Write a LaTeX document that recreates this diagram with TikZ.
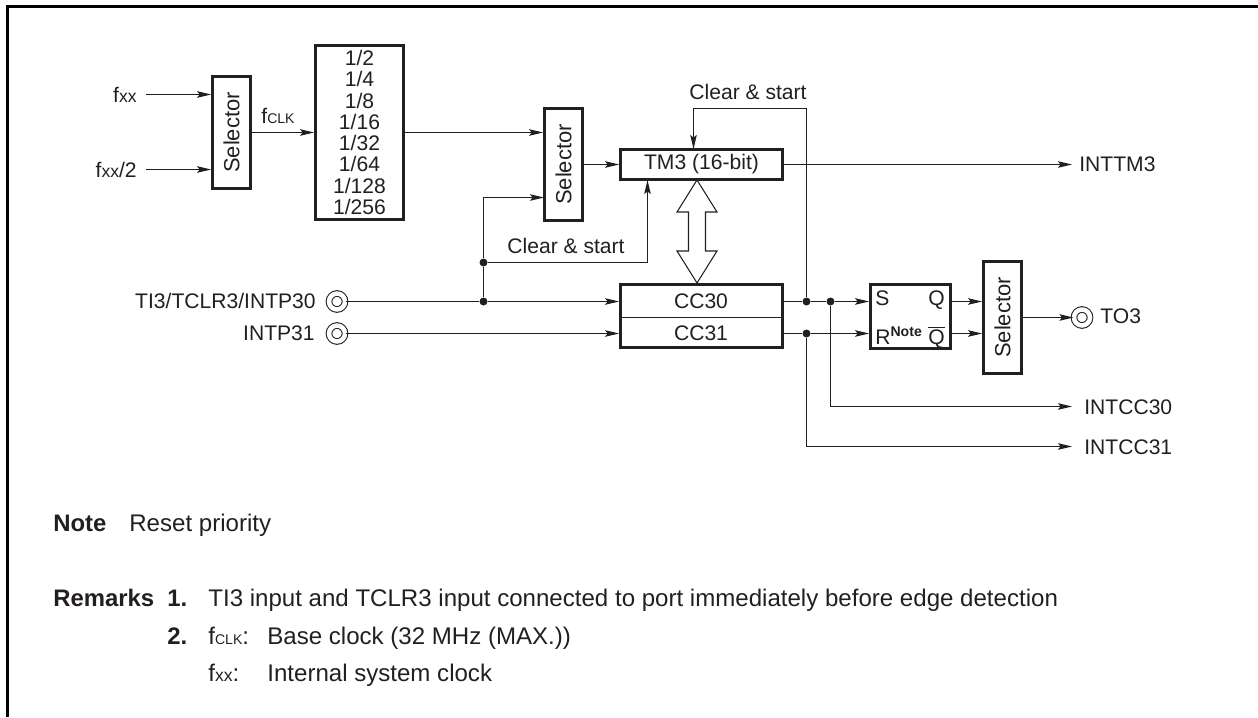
\documentclass[tikz,border=0pt]{standalone}
\usepackage{fontspec}
\setmainfont{Liberation Sans}
\usepackage{graphicx}
\usetikzlibrary{arrows.meta,positioning,calc,shapes.arrows}
\definecolor{TimInk}{RGB}{35,31,32}
\newcommand{\smallcap}[1]{{\fontsize{8}{10}\selectfont #1}}
\newcommand{\smallx}[1]{{\fontsize{10}{12}\selectfont #1}}
\tikzset{
  tim/box/.style={
    draw=TimInk,
    line width=1.6pt,
    fill=white,
    align=center,
    text=TimInk,
    inner sep=0pt,
    font=\fontsize{12}{12.08}\selectfont
  },
  tim/selector/.style={
    tim/box,
    minimum width=0.76cm,
    minimum height=2.24cm,
    font=\fontsize{12.5}{14}\selectfont
  },
  tim/label/.style={
    text=TimInk,
    inner ysep=0pt,
    inner xsep=0pt,
    text height=10.8pt,
    text depth=2.2pt,
    font=\fontsize{12}{14}\selectfont
  },
  tim/side/.style={tim/label,anchor=west},
  tim/remark/.style={tim/label,anchor=west,text height=11.9pt,font=\fontsize{13.7}{15}\selectfont},
  tim/head/.style={tim/remark,font=\fontsize{13.6}{15}\selectfont\bfseries},
  tim/line/.style={draw=TimInk, line width=0.7pt},
  tim/arrow/.style={-{Stealth[length=2.8mm,width=1.3mm,inset=0.5mm]}, tim/line},
  tim/dot/.style={circle, fill=TimInk, inner sep=0pt, minimum size=0.16cm},
  tim/pin/.style={circle, draw=TimInk, line width=0.6pt, double, double distance=0.09cm, inner sep=0pt, minimum size=0.32cm},
  tim/bus/.style={
    double arrow,
    draw=TimInk,
    line width=0.6pt,
    rotate=90,
    fill=white,
    inner sep=0pt,
    minimum width=0.8cm,
    minimum height=2.06cm,
    double arrow head extend=0.17cm,
    double arrow tip angle=64,
    text height=0.23cm
  },
  tim/frame/.style={draw=black, line width=1.7pt}
}
\begin{document}
\begin{tikzpicture}[x=0.02cm,y=-0.02cm]
  \useasboundingbox (0,0) rectangle (1258,717);
  \draw[tim/frame] (7.5,717) -- (7.5,6.5) -- (1258,6.5);
  % boxes
  \node[tim/selector] (sela) at (231.5,132.5) {\rotatebox{90}{Selector}};
  \node[tim/box,minimum width=1.76cm,minimum height=3.48cm] (div) at (359.5,132.5) {1/2\\1/4\\1/8\\1/16\\1/32\\1/64\\1/128\\1/256};
  \node[tim/selector] (selb) at (563.5,164.5) {\rotatebox{90}{Selector}};
  \node[tim/box,minimum width=3.24cm,minimum height=0.6cm] (tm) at (701.5,164.5) {TM3 (16-bit)};
  \node[tim/box,minimum width=3.24cm,minimum height=1.26cm] (cc) at (701.5,316) {};
  \node[tim/label] (cca) at (701,301) {CC30};
  \node[tim/label] (ccb) at (701,333) {CC31};
  \node[tim/box,minimum width=1.6cm,minimum height=1.28cm] (sr) at (910.5,316.5) {};
  \node[tim/side] (srs) at (875,298) {S};
  \node[tim/label,anchor=east] (srq) at (945,298) {Q};
  \node[tim/side] (srr) at (875,337) {R\textsuperscript{\bfseries Note}};
  \node[tim/label,anchor=east] (srn) at (945,337) {$\overline{\mbox{Q}}$};
  \node[tim/selector] (selc) at (1002.5,317.5) {\rotatebox{90}{Selector}};
  \node[tim/bus] (bus) at (697,231.5) {};
  % inputs
  \node[tim/label,anchor=east,inner xsep=0.18cm] (fxa) at (146,94.5) {f\smallx{xx}};
  \node[tim/label,anchor=east,inner xsep=0.18cm] (fxb) at (146,169.5) {f\smallx{xx}/2};
  \node[tim/label] (fclk) at (278,116) {f\smallcap{CLK}};
  \node[tim/pin] (pina) at (337,301.5) {};
  \node[tim/pin] (pinb) at (337,333.5) {};
  \node[tim/label,anchor=east] (tia) at (316,301) {TI3/TCLR3/INTP30};
  \node[tim/label,anchor=east] (tib) at (315,333) {INTP31};
  % outputs
  \node[tim/pin] (pinc) at (1082,317.5) {};
  \node[tim/side] (toc) at (1100,316) {TO3};
  \node[tim/side] (inttm) at (1079,164) {INTTM3};
  \node[tim/side] (intca) at (1084,407) {INTCC30};
  \node[tim/side] (intcb) at (1084,447) {INTCC31};
  % branch points
  \node[tim/dot] (dclr) at (483.5,262.5) {};
  \node[tim/dot] (dti) at (483.5,301.5) {};
  \node[tim/dot] (dfb) at (806.5,301.5) {};
  \node[tim/dot] (dsa) at (830.5,301.5) {};
  \node[tim/dot] (dsb) at (806.5,333.5) {};
  \coordinate (fbtop) at (806.5,108.5);
  \coordinate (fbin) at (693.5,149);
  \coordinate (clrin) at (647.5,180);
  \coordinate (selin) at (544,197.5);
  \coordinate (outa) at (1072,406.5);
  \coordinate (outb) at (1072,446.5);
  \node[tim/label] (clra) at (748,92) {Clear \& start};
  \node[tim/label] (clrb) at (566,246) {Clear \& start};
  % wiring
  \draw[tim/arrow] (fxa.east) -- (fxa.east -| sela.west);
  \draw[tim/arrow] (fxb.east) -- (fxb.east -| sela.west);
  \draw[tim/arrow] (sela.east) -- (div.west);
  \draw[tim/arrow] (div.east) -- (selb.west |- div.east);
  \draw[tim/arrow] (selb.east |- tm.west) -- (tm.west);
  \draw[tim/arrow] (tm.east) -- (tm.east -| outa);
  \draw[tim/line] (pina.east) -- (dti);
  \draw[tim/arrow] (dti) -- (cc.west |- dti);
  \draw[tim/arrow] (pinb.east) -- (cc.west |- pinb);
  \draw[tim/line] (dti) -- (dclr);
  \draw[tim/arrow] (dclr) -- (dclr |- selin) -- (selin);
  \draw[tim/arrow] (dclr) -| (clrin);
  \draw[tim/line] (cc.west |- 0,317.5) -- (cc.east |- 0,317.5);
  \draw[tim/line] (cc.east |- dfb) -- (dfb);
  \draw[tim/line] (dfb) -- (dsa);
  \draw[tim/arrow] (dsa) -- (sr.west |- dsa);
  \draw[tim/line] (cc.east |- dsb) -- (dsb);
  \draw[tim/arrow] (dsb) -- (sr.west |- dsb);
  \draw[tim/arrow] (dfb) -- (fbtop) -| (fbin);
  \draw[tim/arrow] (dsa) |- (outa);
  \draw[tim/arrow] (dsb) |- (outb);
  \draw[tim/arrow] (sr.east |- dsa) -- (selc.west |- dsa);
  \draw[tim/arrow] (sr.east |- dsb) -- (selc.west |- dsb);
  \draw[tim/arrow] (selc.east) -- (pinc.west);
  % notes
  \node[tim/head] (notehd) at (53,523) {Note};
  \node[tim/remark] (notetx) at (129,523) {Reset priority};
  \node[tim/head] (remhd) at (53,598) {Remarks};
  \node[tim/head] (remone) at (167,598) {1.};
  \node[tim/remark] (remonetx) at (208,598) {TI3 input and TCLR3 input connected to port immediately before edge detection};
  \node[tim/head] (remtwo) at (167,636) {2.};
  \node[tim/remark] (fclkkey) at (208,636) {f\smallcap{CLK}:};
  \node[tim/remark] (fclktx) at (267,636) {Base clock (32 MHz (MAX.))};
  \node[tim/remark] (fxxkey) at (208,673) {f\smallx{xx}:};
  \node[tim/remark] (fxxtx) at (267,673) {Internal system clock};
\end{tikzpicture}
\end{document}
